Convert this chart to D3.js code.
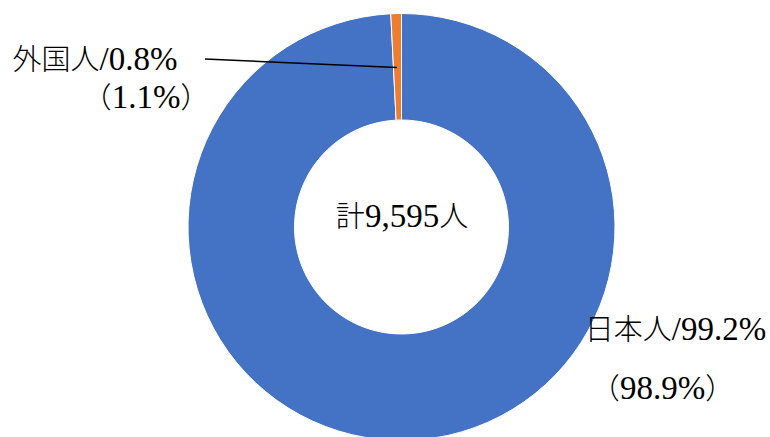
<!DOCTYPE html>
<html><head><meta charset="utf-8">
<script src="https://cdn.jsdelivr.net/npm/d3@7"></script>
<style>
html,body{margin:0;padding:0;background:#fff;}
svg text{fill:#000;}
.cjk{font-family:"Noto Sans CJK JP",sans-serif;font-size:29px;font-weight:300;}
.lat{font-family:"Liberation Serif","Times New Roman","DejaVu Serif",serif;font-size:33px;}
</style></head><body>
<svg id="c" width="770" height="437"></svg>
<script>
const categories = ["日本人", "外国人"];
const shares = [99.2, 0.8];
const prevShares = ["98.9%", "1.1%"];
const colors = ["#4472C4", "#ED7D31"];
const totalPrefix = "計", totalValue = "9,595", totalUnit = "人";

const svg = d3.select("#c");
const cx = 401.5, cy = 227, rOuter = 213.5, rInner = 107;
const g = svg.append("g").attr("transform", `translate(${cx},${cy})`);
const pie = d3.pie().sort(null).value(d => d)(shares);
const arc = d3.arc().innerRadius(rInner).outerRadius(rOuter);
g.selectAll("path").data(pie).enter().append("path")
  .attr("d", arc).attr("fill", (d, i) => colors[i])
  .attr("stroke", "#fff").attr("stroke-width", 1);

svg.append("line").attr("x1", 205).attr("y1", 59).attr("x2", 397).attr("y2", 67.5)
  .attr("stroke", "#000").attr("stroke-width", 1.5);

function label(x, y, parts) {
  const t = svg.append("text").attr("x", x).attr("y", y).attr("text-anchor", "middle");
  parts.forEach(([s, cls]) => t.append("tspan").attr("class", cls).text(s));
  return t;
}
label(95, 70, [[categories[1], "cjk"], ["/" + shares[1].toFixed(1) + "%", "lat"]]);
label(146, 108, [["（", "cjk"], [prevShares[1], "lat"], ["）", "cjk"]]);
label(675.5, 340, [[categories[0], "cjk"], ["/" + shares[0].toFixed(1) + "%", "lat"]]);
label(662.5, 399, [["（", "cjk"], [prevShares[0], "lat"], ["）", "cjk"]]);
label(402, 227, [[totalPrefix, "cjk"], [totalValue, "lat"], [totalUnit, "cjk"]]);
</script>
</body></html>
